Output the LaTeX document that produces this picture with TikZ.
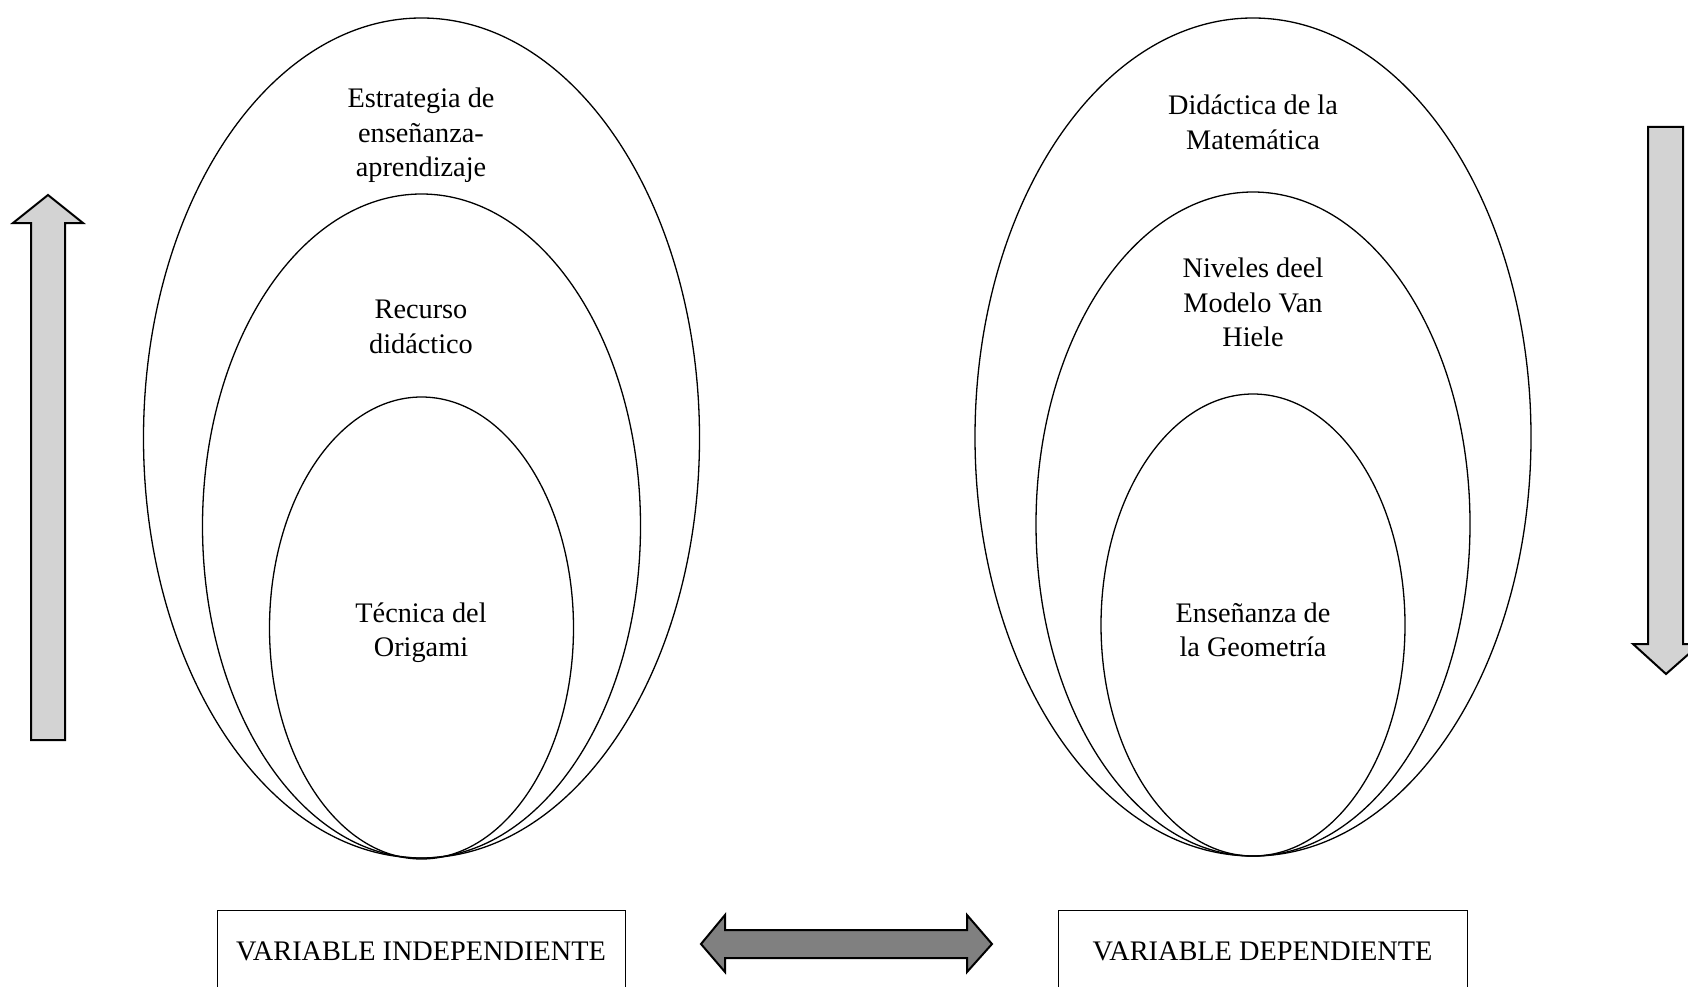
\documentclass[tikz,border=0pt]{standalone}
\usepackage{fontspec}
\setmainfont{Liberation Serif}
\usetikzlibrary{shapes.geometric}
\definecolor{arrowlight}{RGB}{211,211,211}
\definecolor{arrowdark}{RGB}{128,128,128}
\begin{document}
\begin{tikzpicture}[x=1pt,y=-1pt,
  ring/.style={draw=black,line width=1.3pt,ellipse,inner sep=0pt},
  label/.style={align=center,font=\fontsize{28.3}{34.5}\selectfont,inner sep=0pt},
  varbox/.style={draw=black,line width=1.3pt,fill=white,inner sep=0pt},
  bigarrow/.style={draw=black,line width=2pt,line join=miter}]
\useasboundingbox (0,0) rectangle (1688,987);

% left group of nested ellipses
\node[ring,minimum width=556pt,minimum height=840pt] (lo) at (421.5,438) {};
\node[ring,minimum width=438pt,minimum height=664pt] (lm) at (421.5,526) {};
\node[ring,minimum width=304pt,minimum height=462pt] (li) at (421.5,628) {};

% right group of nested ellipses
\node[ring,minimum width=556pt,minimum height=838pt] (ro) at (1253,437) {};
\node[ring,minimum width=434pt,minimum height=664pt] (rm) at (1253,524) {};
\node[ring,minimum width=304pt,minimum height=462pt] (ri) at (1253,625) {};

% labels inside the ellipses (anchored at the baseline of their last line)
\node[label,anchor=base] (t1) at (421,177) {Estrategia de\\enseñanza-\\aprendizaje};
\node[label,anchor=base] (t2) at (421,353) {Recurso\\didáctico};
\node[label,anchor=base] (t3) at (421,656.5) {Técnica del\\Origami};
\node[label,anchor=base] (t4) at (1253,149.5) {Didáctica de la\\Matemática};
\node[label,anchor=base] (t5) at (1253,346.5) {Niveles deel\\Modelo Van\\Hiele};
\node[label,anchor=base] (t6) at (1253,656.5) {Enseñanza de\\la Geometría};

% variable boxes
\node[varbox,minimum width=408pt,minimum height=110pt,anchor=north west] (bi) at (217,910) {};
\node[label,anchor=base] (bit) at (421,960) {VARIABLE INDEPENDIENTE};
\node[varbox,minimum width=409pt,minimum height=110pt,anchor=north west] (bd) at (1058,910) {};
\node[label,anchor=base] (bdt) at (1262.5,960) {VARIABLE DEPENDIENTE};

% upward arrow on the left
\draw[bigarrow,fill=arrowlight] (31,740) -- (31,223) -- (13,223) -- (48,195)
  -- (83,223) -- (65,223) -- (65,740) -- cycle;

% downward arrow on the right
\draw[bigarrow,fill=arrowlight] (1648,127) -- (1683,127) -- (1683,644) -- (1700,644)
  -- (1666,674) -- (1633,644) -- (1648,644) -- cycle;

% double arrow between the two variables
\draw[bigarrow,fill=arrowdark] (701,944) -- (725,915) -- (725,930) -- (967,930)
  -- (967,915) -- (992,944) -- (967,972) -- (967,958) -- (725,958) -- (725,972) -- cycle;
\end{tikzpicture}
\end{document}
